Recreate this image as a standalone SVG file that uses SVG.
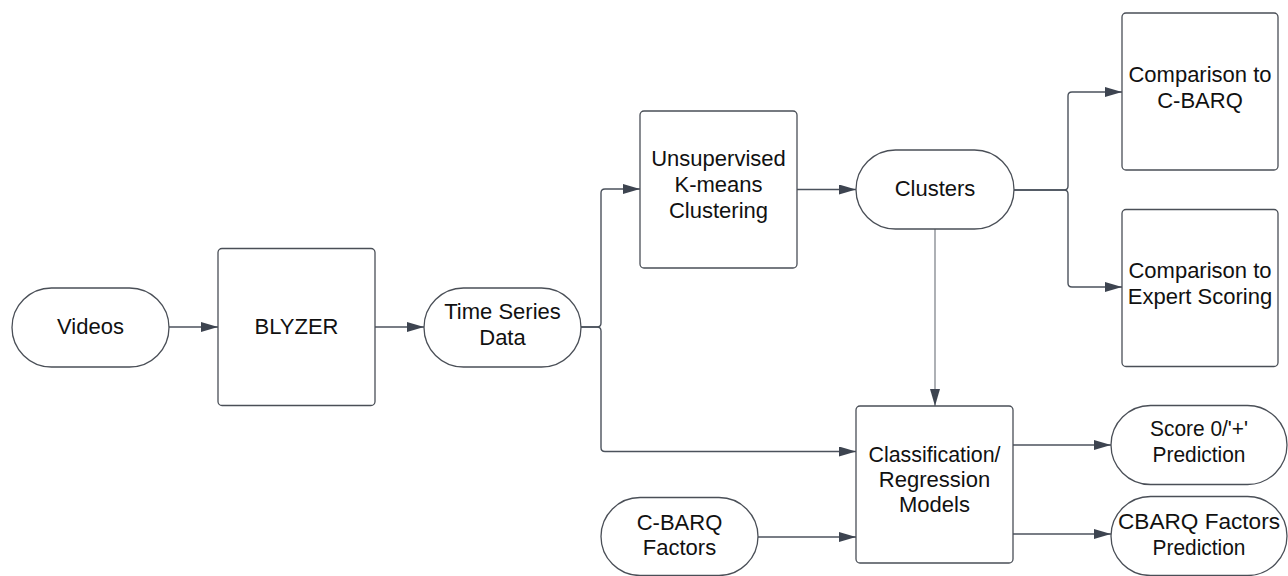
<svg xmlns="http://www.w3.org/2000/svg" width="1288" height="576" viewBox="0 0 1288 576">
<style>
.node{fill:#ffffff;stroke:#4a4f57;stroke-width:1.3}
.lbl{font-family:"Liberation Sans",Arial,sans-serif;font-size:22px;fill:#111111;text-anchor:middle}
.conn{fill:none;stroke:#4b525c;stroke-width:1.4}
</style>
<defs>
<marker id="arr" markerUnits="userSpaceOnUse" markerWidth="18" markerHeight="12" refX="17" refY="5" orient="auto">
<path d="M0,0 L17,5 L0,10 z" fill="#3d4450"/>
</marker>
</defs>
<rect width="1288" height="576" fill="#ffffff"/>
<g id="connectors">
<path class="conn" d="M169,327 H218" marker-end="url(#arr)"/>
<path class="conn" d="M375,327 H424" marker-end="url(#arr)"/>
<path class="conn" d="M581,327 H597 Q601,327 601,323 V193 Q601,189 605,189 H640" marker-end="url(#arr)"/>
<path class="conn" d="M581,327 H597 Q601,327 601,331 V447.5 Q601,451.5 605,451.5 H856" marker-end="url(#arr)"/>
<path class="conn" d="M797,189.5 H856" marker-end="url(#arr)"/>
<path class="conn" d="M1014,190 H1064 Q1068,190 1068,186 V96 Q1068,92 1072,92 H1122" marker-end="url(#arr)"/>
<path class="conn" d="M1014,190 H1064 Q1068,190 1068,194 V283 Q1068,287 1072,287 H1122" marker-end="url(#arr)"/>
<path class="conn" d="M935,229 V406" marker-end="url(#arr)" style="stroke:#6b7078;stroke-width:1.1"/>
<path class="conn" d="M758,537 H856" marker-end="url(#arr)"/>
<path class="conn" d="M1013,445 H1111" marker-end="url(#arr)"/>
<path class="conn" d="M1013,534 H1111" marker-end="url(#arr)"/>
</g>
<g id="videos">
<rect class="node" x="12" y="288" width="157" height="79" rx="39.5"/>
<text class="lbl" x="90.5" y="334">Videos</text>
</g>
<g id="blyzer">
<rect class="node" x="218" y="248.5" width="157" height="157" rx="4"/>
<text class="lbl" x="296.5" y="334">BLYZER</text>
</g>
<g id="timeseries">
<rect class="node" x="424" y="288" width="157" height="79" rx="39.5"/>
<text class="lbl" x="502.5" y="319">Time Series</text>
<text class="lbl" x="502.5" y="345">Data</text>
</g>
<g id="kmeans">
<rect class="node" x="640" y="111" width="157" height="157" rx="4"/>
<text class="lbl" x="718.5" y="166">Unsupervised</text>
<text class="lbl" x="718.5" y="192">K-means</text>
<text class="lbl" x="718.5" y="218">Clustering</text>
</g>
<g id="clusters">
<rect class="node" x="856" y="150" width="158" height="79" rx="39.5"/>
<text class="lbl" x="935" y="196">Clusters</text>
</g>
<g id="cbarqcomp">
<rect class="node" x="1122" y="13" width="156" height="157" rx="4"/>
<text class="lbl" x="1200" y="82">Comparison to</text>
<text class="lbl" x="1200" y="108">C-BARQ</text>
</g>
<g id="expertcomp">
<rect class="node" x="1122" y="209.5" width="156" height="157" rx="4"/>
<text class="lbl" x="1200" y="278">Comparison to</text>
<text class="lbl" x="1200" y="304">Expert Scoring</text>
</g>
<g id="classification">
<rect class="node" x="856" y="406" width="157" height="157" rx="4"/>
<text class="lbl" x="934.5" y="462" textLength="132" lengthAdjust="spacingAndGlyphs">Classification/</text>
<text class="lbl" x="934.5" y="487">Regression</text>
<text class="lbl" x="934.5" y="512">Models</text>
</g>
<g id="cbarqfactors">
<rect class="node" x="601" y="497.5" width="157" height="78" rx="39"/>
<text class="lbl" x="679.5" y="530">C-BARQ</text>
<text class="lbl" x="679.5" y="555">Factors</text>
</g>
<g id="scorepred">
<rect class="node" x="1111" y="405.5" width="176" height="79" rx="39.5"/>
<text class="lbl" x="1199" y="436" textLength="98" lengthAdjust="spacingAndGlyphs">Score 0/'+'</text>
<text class="lbl" x="1199" y="462" textLength="93" lengthAdjust="spacingAndGlyphs">Prediction</text>
</g>
<g id="cbarqpred">
<rect class="node" x="1111" y="496.5" width="176" height="79" rx="39.5"/>
<text class="lbl" x="1199" y="529" textLength="162" lengthAdjust="spacingAndGlyphs">CBARQ Factors</text>
<text class="lbl" x="1199" y="555" textLength="93" lengthAdjust="spacingAndGlyphs">Prediction</text>
</g>
</svg>
